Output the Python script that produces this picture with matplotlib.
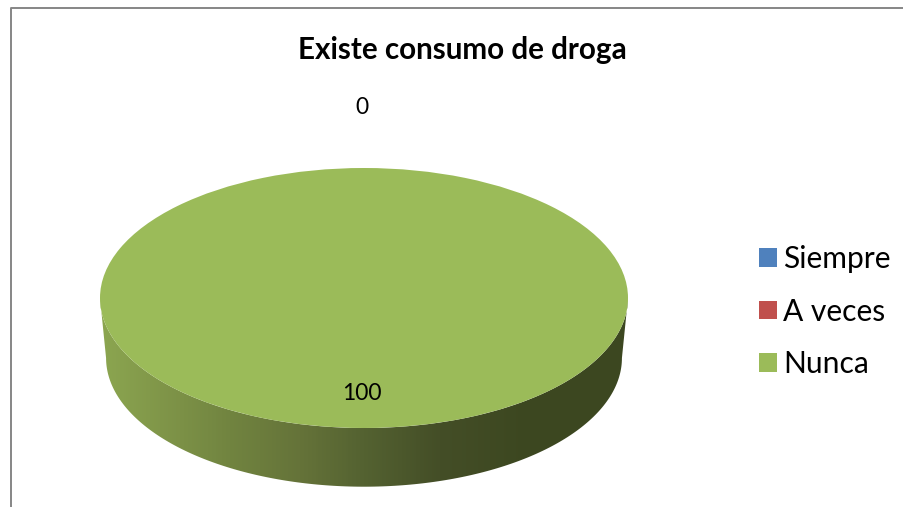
import numpy as np
import matplotlib
matplotlib.use('Agg')
import matplotlib.pyplot as plt
from matplotlib.lines import Line2D
from matplotlib.patches import Polygon

# datos
categorias = ['Siempre', 'A veces', 'Nunca']
valores = [0, 0, 100]
colores = ['#4F81BD', '#C0504D', '#9BBB59']
titulo = 'Existe consumo de droga'

W, H = 904, 507
plt.rcParams['font.family'] = ['Lato', 'DejaVu Sans']

fig = plt.figure(figsize=(W / 100, H / 100), dpi=100, facecolor='white')
ax = fig.add_axes([0, 0, 1, 1])

# elipse superior en pixeles
cx, cy, a, b = 364, 298, 264, 130

wedges, _ = ax.pie(valores, colors=colores, startangle=90, counterclock=False,
                   wedgeprops=dict(linewidth=0), radius=1, center=(0, 0))
for w in wedges:
    w.set_zorder(3)

# lado del cilindro con degradado
t1 = np.linspace(np.pi, 2 * np.pi, 200)
arriba = np.c_[np.cos(t1), np.sin(t1)]
t2 = t1[::-1]
abajo = np.c_[0.977 * np.cos(t2), -60 / b + 0.99 * np.sin(t2)]
lado = Polygon(np.r_[arriba, abajo], closed=True, transform=ax.transData, facecolor='none', edgecolor='none')
ax.add_patch(lado)

x_px = [100, 160, 230, 300, 364, 440, 530, 628]
r = [140, 128, 113, 101, 84, 68, 60, 60]
g = [166, 150, 132, 115, 98, 78, 71, 71]
b_c = [80, 73, 64, 57, 49, 39, 32, 32]
xs = np.linspace(100, 628, 264)
grad = np.stack([np.interp(xs, x_px, r), np.interp(xs, x_px, g), np.interp(xs, x_px, b_c)], axis=1) / 255
img = ax.imshow(grad[np.newaxis, :, :], extent=(-1, 1, -1.5, 0), aspect='auto', zorder=2)
img.set_clip_path(lado)

ax.set_aspect('auto')
ax.set_xlim((0 - cx) / a, (W - cx) / a)
ax.set_ylim((cy - H) / b, cy / b)
ax.axis('off')

# marco gris
fig.add_artist(Line2D([10.5 / W, 10.5 / W, 1], [0, 1 - 7.5 / H, 1 - 7.5 / H], color='#868686', lw=1.4))

fig.text(462 / W, 1 - 50 / H, titulo, ha='center', va='center', fontsize=21.3, fontweight='bold', color='black')

# etiquetas de datos
fig.text(362 / W, 1 - 107 / H, str(valores[0]), ha='center', va='center', fontsize=16.5, color='black')
fig.text(362 / W, 1 - 393 / H, str(valores[2]), ha='center', va='center', fontsize=16.5, color='black')

# leyenda
leg = fig.legend(wedges, categorias, loc='upper left', bbox_to_anchor=(759 / W, 1 - 245 / H), frameon=False,
                 fontsize=21.6, handlelength=0.6, handleheight=0.58, handletextpad=0.2, labelspacing=0.82,
                 borderpad=0, borderaxespad=0)

fig.savefig('out.png', dpi=100, facecolor='white')
